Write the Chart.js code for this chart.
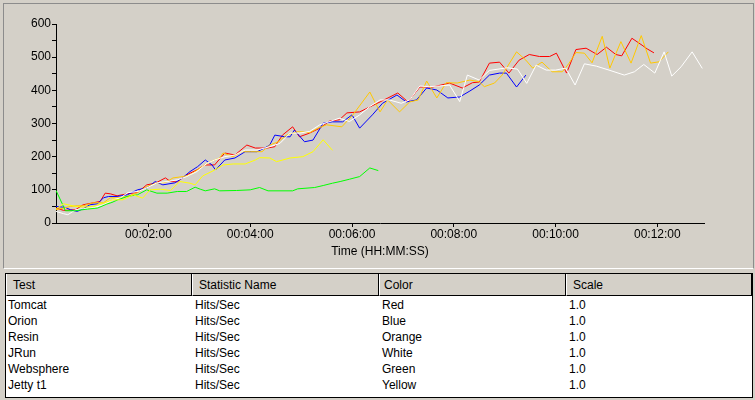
<!DOCTYPE html>
<html>
<head>
<meta charset="utf-8">
<script src="https://cdn.jsdelivr.net/npm/chart.js@4.4.0/dist/chart.umd.min.js"></script>
<style>
  body { margin: 0; width: 755px; height: 400px; overflow: hidden; position: relative;
         background: #d4d0c8; font-family: "Liberation Sans", Arial, sans-serif; font-size: 12px; color: #000; }
  #panel { position: absolute; left: 3px; top: 3px; width: 751px; height: 266px; box-sizing: border-box;
           border-top: 1px solid #8c8c8c; border-left: 1px solid #8c8c8c; border-right: 1px solid #8c8c8c;
           border-bottom: 1px solid #ffffff; }
  #chart { position: absolute; left: 0; top: 0; }
  #grid { position: absolute; left: 5px; top: 273px; width: 748px; height: 125px; box-sizing: border-box;
          border: 1px solid #000; background: #fff; }
  .hd { position: absolute; top: 274px; height: 22px; box-sizing: border-box; background: #d4d0c8;
        border-left: 1px solid #fff; border-right: 1px solid #000; border-bottom: 1px solid #000; }
  .txt { position: absolute; height: 16px; line-height: 16px; white-space: nowrap; }
</style>
</head>
<body>
<div id="panel"></div>
<canvas id="chart" width="755" height="268"></canvas>
<div id="grid"></div>
<div id="table"></div>
<script>
// sample times in seconds, values in hits/sec
const tomcatTimes = [11, 20, 34, 43, 55, 63, 69, 75, 83, 95, 107, 118, 128, 140, 146, 154, 165, 177, 187, 198, 210, 222, 236, 246, 260, 269, 278, 290, 298, 310, 322, 334, 345, 354, 369, 393, 414, 426, 440, 455, 475, 490, 502, 510, 522, 534, 545, 557, 569, 581, 593, 601, 613, 624, 636, 649, 660, 671, 678, 690, 702, 708, 716];
const tomcatHits = [45, 38, 40, 55, 61, 65, 90, 88, 82, 88, 92, 115, 120, 136, 125, 124, 145, 160, 175, 175, 211, 205, 235, 226, 226, 230, 265, 290, 260, 271, 286, 308, 311, 332, 335, 365, 392, 365, 410, 410, 422, 407, 423, 425, 482, 485, 452, 491, 508, 502, 502, 512, 452, 523, 527, 508, 530, 508, 504, 557, 536, 525, 513];

const orionTimes = [11, 22, 28, 36, 43, 51, 60, 67, 73, 83, 95, 107, 118, 128, 137, 151, 160, 169, 178, 187, 195, 199, 210, 222, 234, 248, 257, 263, 269, 281, 287, 292, 304, 314, 326, 337, 349, 360, 369, 384, 396, 413, 424, 436, 448, 460, 473, 487, 499, 510, 522, 534, 542, 554, 565];
const orionHits = [50, 47, 40, 35, 43, 55, 58, 76, 80, 80, 85, 100, 106, 125, 115, 121, 136, 155, 170, 190, 175, 160, 190, 196, 215, 215, 226, 235, 265, 260, 260, 280, 245, 250, 301, 305, 305, 326, 286, 326, 361, 386, 365, 371, 407, 401, 377, 380, 398, 416, 446, 452, 452, 410, 446];

const resinTimes = [11, 28, 36, 43, 55, 67, 75, 83, 95, 107, 118, 130, 140, 149, 161, 169, 181, 193, 204, 208, 220, 230, 240, 254, 263, 273, 283, 295, 301, 310, 320, 330, 348, 361, 381, 393, 402, 416, 428, 438, 448, 460, 471, 484, 499, 510, 516, 528, 537, 554, 565, 573, 584, 596, 608, 616, 624, 634, 643, 655, 664, 677, 689, 701, 712, 722, 733];
const resinHits = [40, 50, 52, 52, 61, 61, 76, 76, 80, 91, 110, 121, 122, 136, 140, 145, 166, 185, 196, 211, 200, 215, 215, 215, 235, 245, 265, 275, 275, 272, 286, 296, 290, 326, 395, 335, 371, 335, 365, 371, 428, 377, 423, 422, 431, 426, 411, 422, 446, 516, 491, 467, 485, 456, 456, 482, 514, 512, 483, 563, 467, 547, 482, 565, 482, 486, 516];

const jrunTimes = [11, 20, 25, 34, 43, 55, 67, 78, 87, 96, 108, 118, 130, 142, 154, 165, 177, 189, 198, 210, 222, 234, 248, 263, 275, 287, 298, 310, 322, 334, 345, 357, 369, 381, 393, 404, 418, 428, 440, 451, 463, 475, 487, 496, 510, 522, 543, 555, 566, 577, 589, 600, 612, 623, 634, 648, 663, 681, 693, 704, 717, 728, 737, 748, 761, 773];
const jrunHits = [35, 28, 25, 40, 43, 46, 55, 70, 76, 92, 95, 106, 121, 125, 130, 140, 155, 180, 190, 200, 205, 220, 220, 230, 240, 271, 271, 276, 296, 306, 316, 306, 326, 351, 371, 371, 361, 371, 413, 411, 413, 416, 366, 446, 431, 460, 468, 464, 421, 476, 461, 461, 467, 416, 480, 473, 461, 446, 456, 478, 452, 516, 443, 471, 516, 466];

const websphereTimes = [11, 18, 22, 34, 48, 60, 71, 77, 84, 95, 107, 118, 130, 142, 154, 165, 175, 181, 187, 198, 204, 224, 240, 251, 261, 290, 296, 316, 326, 337, 346, 357, 369, 381, 391];
const websphereHits = [98, 60, 37, 37, 42, 45, 57, 62, 70, 80, 85, 100, 90, 90, 95, 95, 108, 102, 97, 103, 97, 98, 100, 107, 97, 97, 103, 107, 113, 120, 125, 132, 140, 166, 158];

const jettyTimes = [11, 20, 25, 34, 43, 55, 67, 78, 90, 102, 113, 122, 134, 146, 157, 169, 175, 184, 196, 208, 220, 234, 246, 251, 263, 271, 287, 302, 314, 326, 337];
const jettyHits = [42, 58, 55, 50, 48, 50, 60, 70, 70, 85, 75, 100, 102, 98, 125, 120, 115, 142, 157, 175, 178, 178, 190, 197, 196, 185, 196, 200, 215, 251, 219];

const timeTicks = [120, 240, 360, 480, 600, 720];

const testNames = ["Tomcat", "Orion", "Resin", "JRun", "Websphere", "Jetty t1"];
const statNames = ["Hits/Sec", "Hits/Sec", "Hits/Sec", "Hits/Sec", "Hits/Sec", "Hits/Sec"];
const colorNames = ["Red", "Blue", "Orange", "White", "Green", "Yellow"];
const scaleValues = ["1.0", "1.0", "1.0", "1.0", "1.0", "1.0"];
const headers = ["Test", "Statistic Name", "Color", "Scale"];

const FONT = { family: "'Liberation Sans', Arial, sans-serif", size: 12 };

function pairs(times, values) {
    return times.map((t, i) => ({ x: t, y: values[i] }));
}

function hms(sec) {
    const h = Math.floor(sec / 3600);
    const m = Math.floor((sec % 3600) / 60);
    const s = sec % 60;
    return [h, m, s].map(n => String(n).padStart(2, "0")).join(":");
}

const series = [
    { times: tomcatTimes, hits: tomcatHits, color: "#ff0000" },
    { times: orionTimes, hits: orionHits, color: "#0000ff" },
    { times: resinTimes, hits: resinHits, color: "#ffc800" },
    { times: jrunTimes, hits: jrunHits, color: "#ffffff" },
    { times: websphereTimes, hits: websphereHits, color: "#00ff00" },
    { times: jettyTimes, hits: jettyHits, color: "#ffff00" },
];

new Chart(document.getElementById("chart"), {
    type: "line",
    data: {
        datasets: series.map((s, i) => ({
            label: testNames[i],
            data: pairs(s.times, s.hits),
            borderColor: s.color,
            backgroundColor: s.color,
            borderWidth: 1,
            pointRadius: 0,
            tension: 0,
            order: series.length - i,
        })),
    },
    options: {
        responsive: false,
        animation: false,
        layout: { padding: { left: 0, right: 51, top: 24, bottom: 0 } },
        plugins: { legend: { display: false }, tooltip: { enabled: false } },
        scales: {
            x: {
                type: "linear",
                min: 11,
                max: 775,
                afterBuildTicks: scale => { scale.ticks = timeTicks.map(v => ({ value: v })); },
                afterFit: scale => { scale.height = 45; },
                ticks: { color: "#000", font: FONT, padding: 0, maxRotation: 0, autoSkip: false, callback: v => hms(v) },
                grid: { drawOnChartArea: false, drawTicks: true, tickLength: 4, color: "#000" },
                border: { color: "#000" },
                title: { display: true, text: "Time (HH:MM:SS)", color: "#000", font: FONT, padding: { top: 0, bottom: 9 } },
            },
            y: {
                min: 0,
                max: 600,
                afterFit: scale => { scale.width = 56; },
                ticks: { stepSize: 50, color: "#000", font: FONT, padding: 1, autoSkip: false,
                         callback: v => (v % 100 === 0 ? String(v) : "") },
                grid: { drawOnChartArea: false, drawTicks: true, tickLength: 4, color: "#000" },
                border: { color: "#000" },
            },
        },
    },
});

// table below the chart
const table = document.getElementById("table");
const colLefts = [6, 192, 379, 566];
const colWidths = [186, 187, 187, 186];
const headTextX = [13, 199, 384, 573];
const cellTextX = [8, 195, 382, 569];

headers.forEach((h, c) => {
    const cell = document.createElement("div");
    cell.className = "hd";
    cell.style.left = colLefts[c] + "px";
    cell.style.width = colWidths[c] + "px";
    table.appendChild(cell);
    const t = document.createElement("div");
    t.className = "txt";
    t.style.left = headTextX[c] + "px";
    t.style.top = "277px";
    t.textContent = h;
    table.appendChild(t);
});

const columns = [testNames, statNames, colorNames, scaleValues];
testNames.forEach((_, r) => {
    columns.forEach((col, c) => {
        const t = document.createElement("div");
        t.className = "txt";
        t.style.left = cellTextX[c] + "px";
        t.style.top = (297 + r * 16) + "px";
        t.textContent = col[r];
        table.appendChild(t);
    });
});
</script>
</body>
</html>
